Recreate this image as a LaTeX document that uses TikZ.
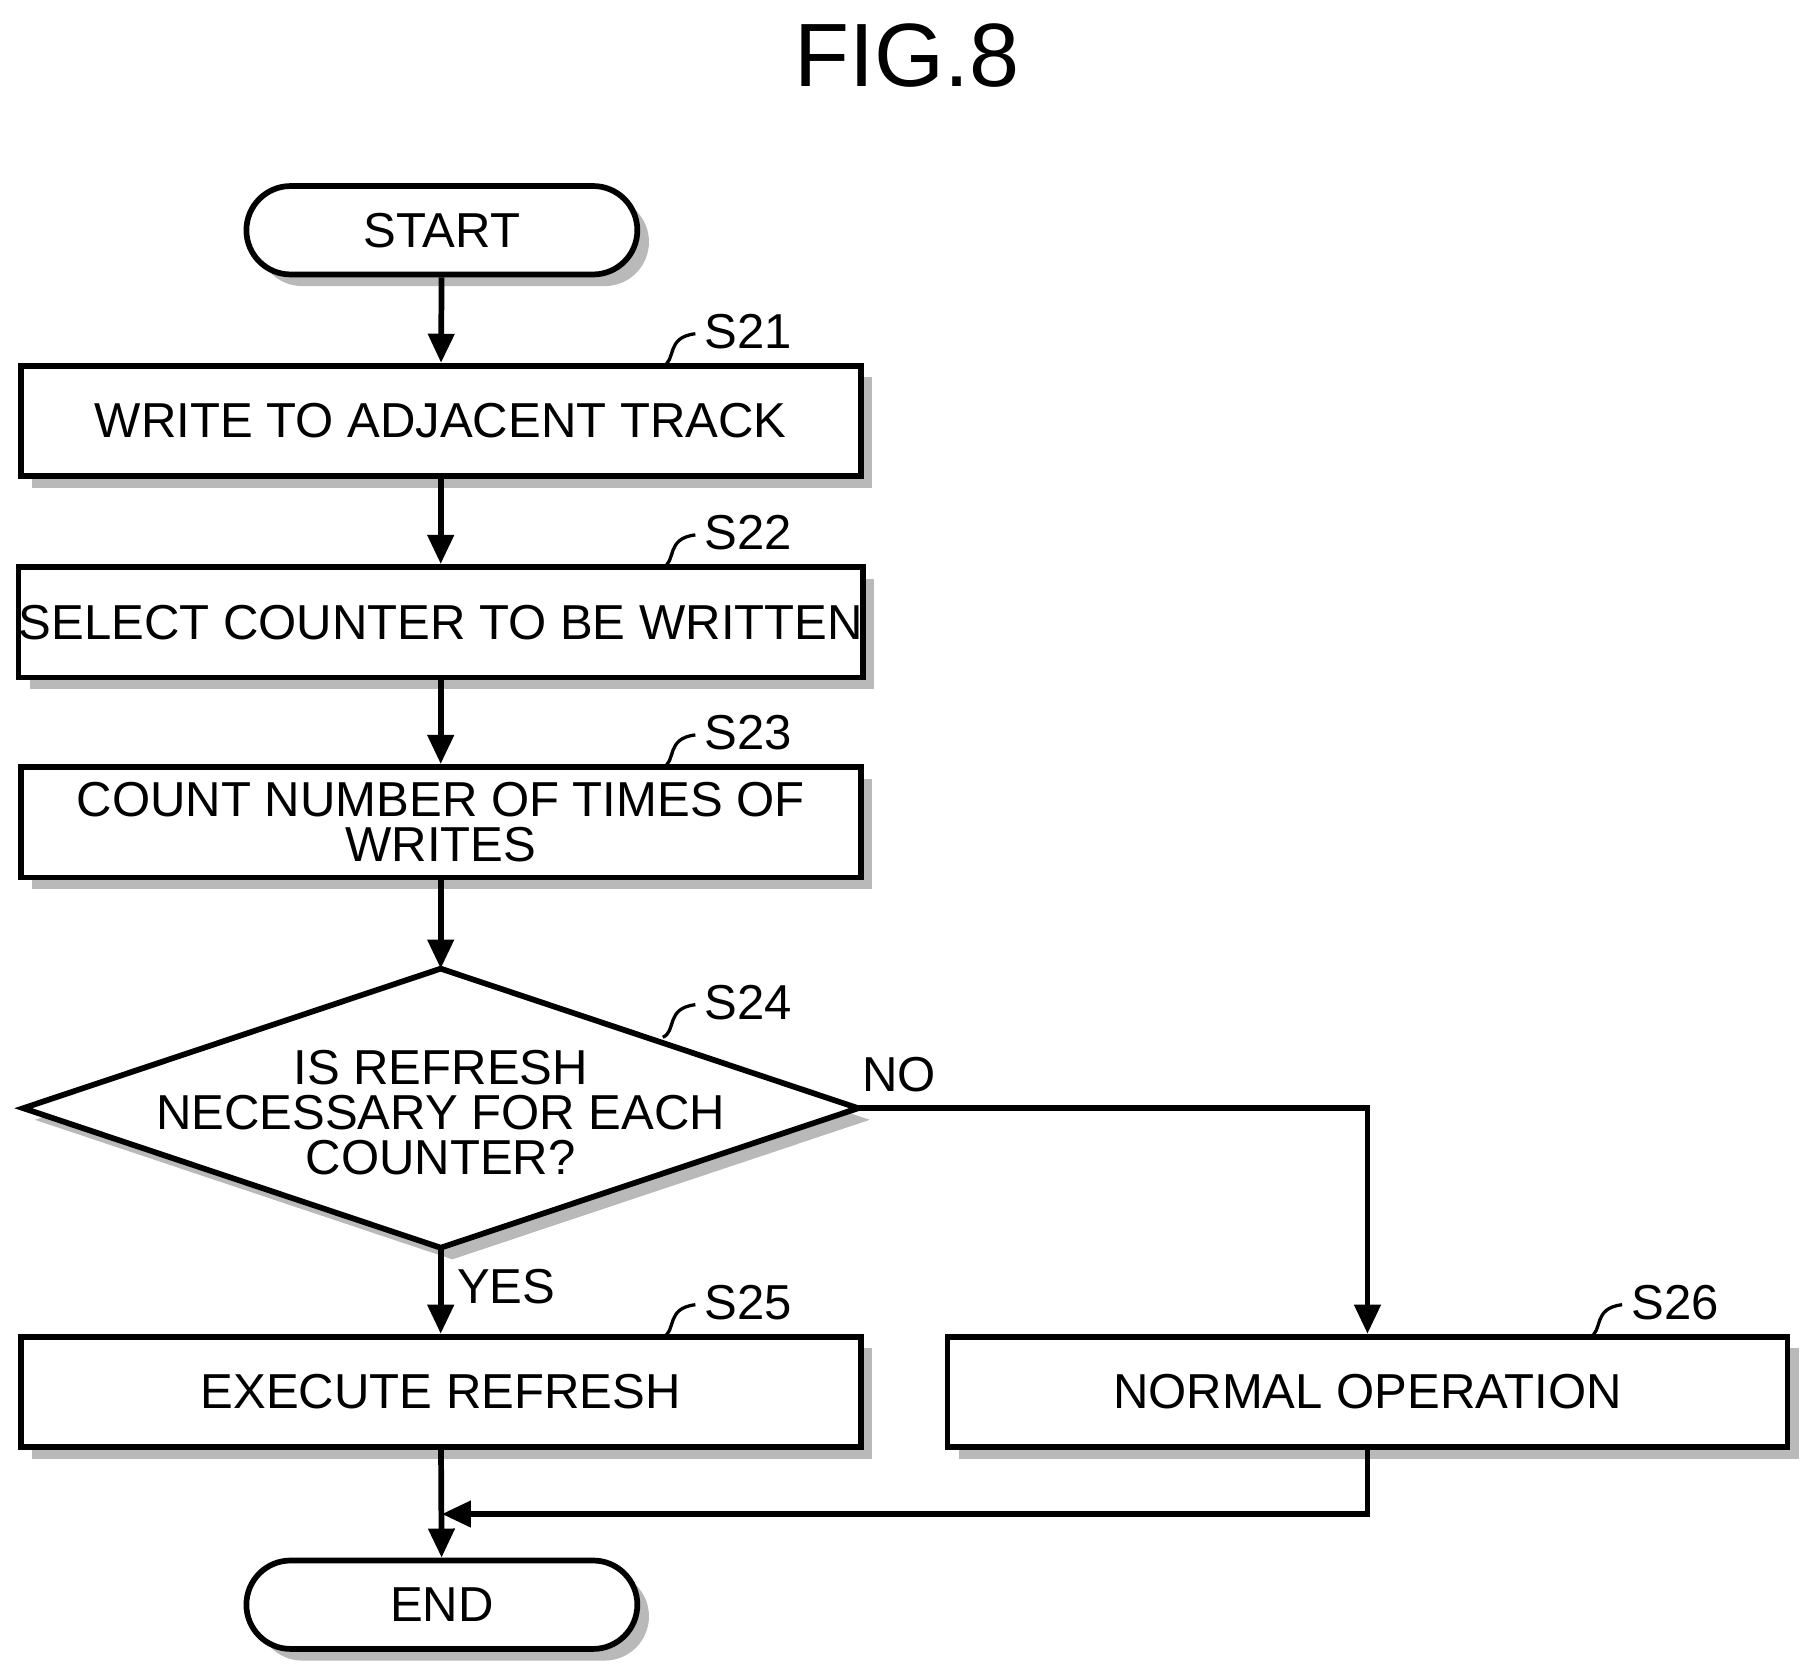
\documentclass[tikz,border=0pt]{standalone}
\usepackage{fontspec}
\setmainfont{Liberation Sans}
\usetikzlibrary{arrows.meta,positioning,shapes.geometric,shadows}
\begin{document}
\begin{tikzpicture}[x=0.01cm,y=-0.01cm, semithick]
  \tikzstyle{shade} = [drop shadow={shadow xshift=0.1cm, shadow yshift=-0.1cm, fill=gray!55, opacity=1}];
  \tikzstyle{box} = [draw, line width=1.4pt, fill=white, rectangle, shade, minimum height=0.95cm, minimum width=7.22cm, align=center, font={\fontsize{12}{14}\selectfont}, inner sep=0pt];
  \tikzstyle{term} = [box, rounded corners=0.38cm, minimum width=3.36cm, minimum height=0.76cm];
  \tikzstyle{check} = [draw, line width=1.4pt, fill=white, shade];
  \tikzstyle{flow} = [line width=1.4pt, -{Triangle[length=0.25cm, width=0.22cm]}];
  \tikzstyle{tag} = [font={\fontsize{12}{14}\selectfont}];
  \tikzstyle{lead} = [line width=0.8pt];

  \useasboundingbox (0,0) rectangle (1560,1441);
  \node[font={\fontsize{22}{26}\selectfont}] (fig) at (780,48) {FIG.8};

  \node[term] (start) at (380,198) {START};
  \node[box] (s21) at (379,362) {WRITE TO ADJACENT TRACK};
  \node[box] (s22) at (379,535) {SELECT COUNTER TO BE WRITTEN};
  \node[box] (s23) at (379,707) {COUNT NUMBER OF TIMES OF\\[-3pt]WRITES};
  % decision
  \coordinate (s24n) at (379,833);
  \coordinate (s24e) at (738,953);
  \coordinate (s24s) at (379,1073);
  \coordinate (s24w) at (20,953);
  \path[check] (s24n) -- (s24e) -- (s24s) -- (s24w) -- cycle;
  \node[tag, align=center] (s24) at (379,957) {IS REFRESH\\[-3pt]NECESSARY FOR EACH\\[-3pt]COUNTER?};
  \node[box] (s25) at (379,1197) {EXECUTE REFRESH};
  \node[box] (s26) at (1176,1197) {NORMAL OPERATION};
  \node[term] (end) at (380,1380) {END};

  % step labels
  \foreach \s/\n/\x/\y in {s21/S21/570/315, s22/S22/570/488, s23/S23/570/660, s24/S24/570/892, s25/S25/570/1150, s26/S26/1367/1150} {
    \draw[lead] (\x,\y) .. controls (\x+12,\y-5) and (\x+2,\y-25) .. (\x+28,\y-28);
    \node[tag, anchor=west, inner sep=2pt] (l\s) at (\x+28,\y-30) {\n};
  }

  \draw[flow] (start) -- (s21);
  \draw[flow] (s21) -- (s22);
  \draw[flow] (s22) -- (s23);
  \draw[flow] (s23) -- (s24n);
  \draw[flow] (s24s) -- node[tag, right, pos=0.45] {YES} (s25);
  \draw[flow] (s24e) -- node[tag, above, pos=0.08] {NO} (1176,953) -- (s26);
  \coordinate (join) at (380,1302);
  \draw[flow] (s26.south) |- (join);
  \draw[flow] (s25) -- (end);
\end{tikzpicture}
\end{document}
